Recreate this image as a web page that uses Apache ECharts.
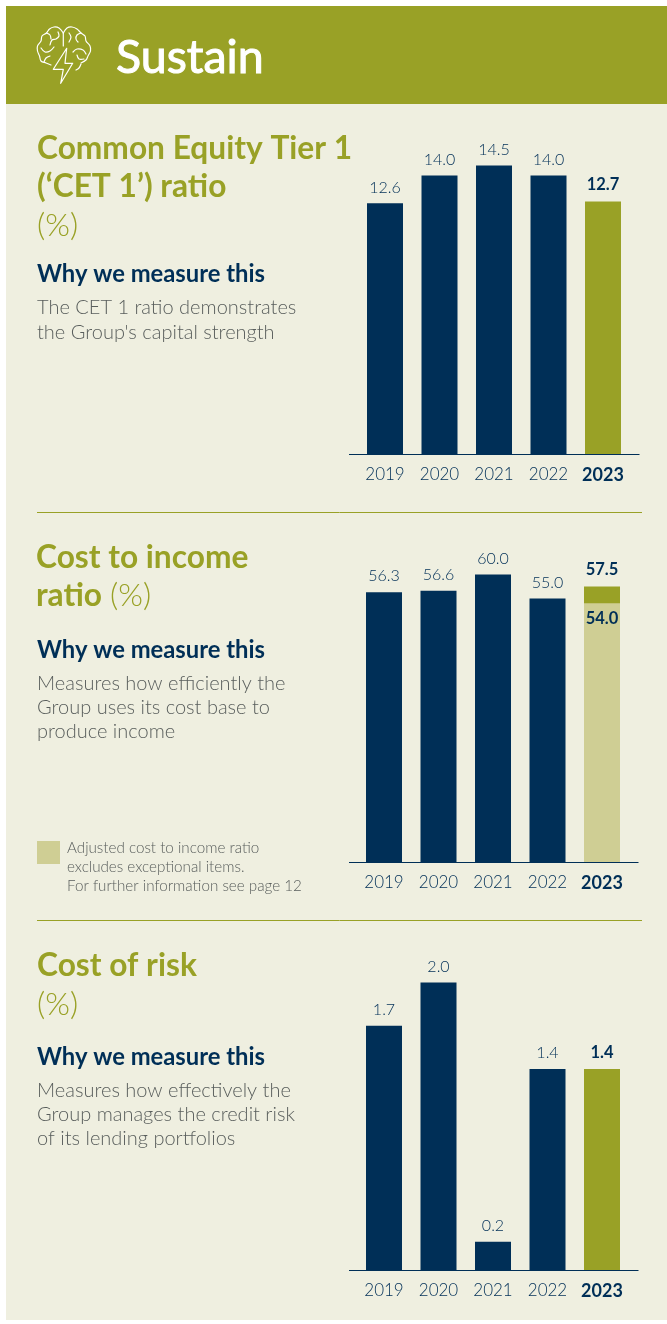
<!DOCTYPE html>
<html>
<head>
<meta charset="utf-8">
<style>html,body{margin:0;padding:0;background:#fff}#chart{width:667px;height:1324px}</style>
<script src="https://cdn.jsdelivr.net/npm/echarts@6/dist/echarts.min.js"></script>
</head>
<body>
<div id="chart"></div>
<script>
// Sustain KPI panel: three bar charts with explanatory copy beside each.
const years = ['2019', '2020', '2021', '2022', '2023'];
const cet1Ratio = [12.6, 14.0, 14.5, 14.0, 12.7];
const costToIncome = [56.3, 56.6, 60.0, 55.0, 57.5];
const adjustedCostToIncome = [null, null, null, null, 54.0];
const costOfRisk = [1.7, 2.0, 0.2, 1.4, 1.4];

const NAVY = '#002f57', OLIVE = '#99a126', PALE = '#cfce94', PANEL = '#efefe0', GREY = '#595e5c';
const FONT = 'Lato';

const panels = [
  { values: cet1Ratio, left: 357.75, bottom: 454.5, axisMax: 14.5, top: 165.5, lineFrom: 349, lineTo: 639.5 },
  { values: costToIncome, left: 356.75, bottom: 862.5, axisMax: 60, top: 574.5, lineFrom: 349, lineTo: 638.5 },
  { values: costOfRisk, left: 356.75, bottom: 1270.5, axisMax: 2, top: 982.5, lineFrom: 349, lineTo: 638.5 }
];

const yearLabel = {
  interval: 0, color: NAVY, fontFamily: FONT, fontWeight: 300, fontSize: 17, margin: 12,
  formatter: v => v === '2023' ? '{b|' + v + '}' : v,
  rich: { b: { fontFamily: FONT, fontWeight: 700, fontSize: 18, color: NAVY } }
};

const grid = panels.map(p => ({ left: p.left, width: 272.5, top: p.top, height: p.bottom - p.top }));
const xAxis = panels.map((p, i) => ({
  type: 'category', gridIndex: i, data: years,
  axisLine: { show: false }, axisTick: { show: false }, axisLabel: yearLabel
}));
const yAxis = panels.map((p, i) => ({
  type: 'value', gridIndex: i, min: 0, max: p.axisMax, show: false
}));

const barSeries = (p, i) => ({
  type: 'bar', xAxisIndex: i, yAxisIndex: i, barWidth: 36, barGap: '-100%',
  data: p.values.map((v, k) => ({
    value: v,
    itemStyle: { color: k === 4 ? OLIVE : NAVY },
    label: {
      show: true, position: 'top', distance: 8, color: NAVY,
      fontFamily: FONT, fontSize: k === 4 ? 16.5 : 16, fontWeight: k === 4 ? 700 : 300,
      formatter: x => x.value.toFixed(1)
    }
  }))
});

const series = panels.map(barSeries);
series.push({
  type: 'bar', xAxisIndex: 1, yAxisIndex: 1, barWidth: 36, barGap: '-100%', z: 3,
  data: adjustedCostToIncome,
  itemStyle: { color: PALE },
  label: {
    show: true, position: 'insideTop', distance: 7, color: NAVY,
    fontFamily: FONT, fontSize: 16.5, fontWeight: 700,
    formatter: x => x.value.toFixed(1)
  }
});

const text = (x, y, str, font, fill) => ({
  type: 'text', silent: true, z: 5,
  style: { x, y, text: str, font, fill, textVerticalAlign: 'middle' }
});
const rule = (x1, x2, y, stroke) => ({
  type: 'line', silent: true, z: 4,
  shape: { x1, y1: y, x2, y2: y }, style: { stroke, lineWidth: 1 }
});

const HEAD = `700 31.7px ${FONT}`, UNIT = `300 31.7px ${FONT}`;
const SUB = `700 23.8px ${FONT}`, BODY = `300 20px ${FONT}`, NOTE = `300 15.2px ${FONT}`;

// Brain-and-lightning emblem in the banner: lobes and folds as smoothed strokes.
const brainStrokes = [
  [[63.3, 33], [59, 28], [54, 27], [49.5, 29], [46.5, 33], [42, 36], [41, 41], [37.5, 46], [37.5, 51], [39.5, 56], [41, 61], [46, 63], [51, 65]],
  [[63.3, 33], [67, 28], [72, 27], [77, 29], [81, 33], [85, 36], [86, 41], [90, 46], [90.5, 51], [88, 56], [86, 60], [81, 63]],
  [[63.3, 33], [63.3, 46]],
  [[46.5, 33], [50, 35], [51, 39]],
  [[58, 32], [59, 36], [56, 39], [52, 40], [50, 45]],
  [[41, 48], [45, 52], [50, 51], [54, 47]],
  [[44, 62], [46, 58], [50, 56]],
  [[69, 33], [71, 37], [69, 42]],
  [[81, 33], [77, 35], [76, 39], [78, 42]],
  [[73, 52], [77, 49], [83, 50], [86, 54]],
  [[77, 55], [79, 59], [84, 59]],
  [[81, 64], [79, 68], [76, 70]]
];
const boltOutline = [[66.7, 48.3], [53.3, 69.3], [63.3, 69.3], [60.7, 83.3], [72.7, 63.3], [65, 63.3], [66.7, 48.3]];
const iconStyle = { fill: null, stroke: '#ffffff', lineWidth: 1.2, lineJoin: 'round', lineCap: 'round' };
const brain = brainStrokes.map(points => ({
  type: 'polyline', silent: true, z: 5, shape: { points, smooth: 0.35 }, style: iconStyle
}));
brain.push({ type: 'polyline', silent: true, z: 5, shape: { points: boltOutline }, style: iconStyle });

// Banner word: regular weight thickened slightly with a white outline.
const bannerTitle = text(116, 58, 'Sustain', `400 46.5px ${FONT}`, '#ffffff');
bannerTitle.style.stroke = '#ffffff';
bannerTitle.style.lineWidth = 1;

const graphic = [
  { type: 'rect', silent: true, z: -2, shape: { x: 6, y: 6, width: 661, height: 1314 }, style: { fill: PANEL } },
  { type: 'rect', silent: true, z: -1, shape: { x: 6, y: 6, width: 661, height: 98 }, style: { fill: OLIVE } },
  ...brain,
  bannerTitle,

  text(37, 149, 'Common Equity Tier 1', HEAD, OLIVE),
  text(37, 187, '(‘CET 1’) ratio', HEAD, OLIVE),
  text(37, 226, '(%)', UNIT, OLIVE),
  text(37, 274.5, 'Why we measure this', SUB, NAVY),
  text(37, 307.5, 'The CET 1 ratio demonstrates', BODY, GREY),
  text(37, 332.5, "the Group's capital strength", BODY, GREY),
  rule(37, 642, 512.5, OLIVE),

  text(36, 558, 'Cost to income', HEAD, OLIVE),
  text(36, 596, 'ratio', HEAD, OLIVE),
  text(110, 596, '(%)', UNIT, OLIVE),
  text(37, 650.5, 'Why we measure this', SUB, NAVY),
  text(37, 683.5, 'Measures how efficiently the', BODY, GREY),
  text(37, 707.5, 'Group uses its cost base to', BODY, GREY),
  text(37, 732, 'produce income', BODY, GREY),
  { type: 'rect', silent: true, shape: { x: 37, y: 841, width: 23, height: 23 }, style: { fill: PALE } },
  text(67, 848, 'Adjusted cost to income ratio', NOTE, GREY),
  text(67, 867, 'excludes exceptional items.', NOTE, GREY),
  text(67, 886, 'For further information see page 12', NOTE, GREY),
  rule(37, 642, 920.5, OLIVE),

  text(37, 965.5, 'Cost of risk', HEAD, OLIVE),
  text(37, 1004.5, '(%)', UNIT, OLIVE),
  text(37, 1057.5, 'Why we measure this', SUB, NAVY),
  text(37, 1090.5, 'Measures how effectively the', BODY, GREY),
  text(37, 1114.5, 'Group manages the credit risk', BODY, GREY),
  text(37, 1139, 'of its lending portfolios', BODY, GREY),

  ...panels.map(p => ({
    type: 'line', silent: true, z: 6,
    shape: { x1: p.lineFrom, y1: p.bottom, x2: p.lineTo, y2: p.bottom },
    style: { stroke: NAVY, lineWidth: 1 }
  }))
];

const chart = echarts.init(document.getElementById('chart'), null, { renderer: 'canvas' });
chart.setOption({ animation: false, backgroundColor: '#ffffff', grid, xAxis, yAxis, series, graphic });
</script>
</body>
</html>
